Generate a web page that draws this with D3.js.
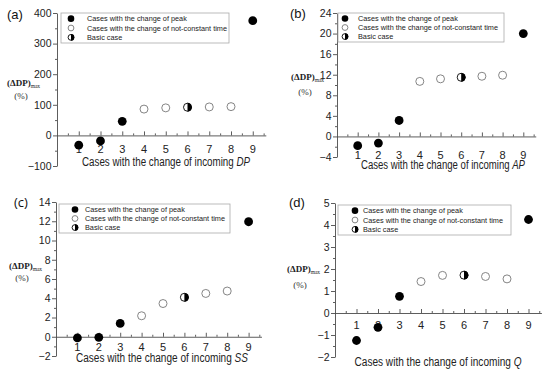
<!DOCTYPE html>
<html>
<head>
<meta charset="utf-8">
<script src="https://cdn.jsdelivr.net/npm/d3@7"></script>
<style>
  body { margin: 0; background: #fff; }
  svg { display: block; }
</style>
</head>
<body>
<svg id="chart" width="550" height="372"></svg>
<script>
// data
var cases = [1, 2, 3, 4, 5, 6, 7, 8, 9];
var caseTypes = ["peak", "peak", "peak", "time", "time", "basic", "time", "time", "peak"];

var dpValues = [-32, -18, 46, 86, 90, 92, 93, 94, 375];
var apValues = [-1.8, -1.3, 3.1, 10.7, 11.2, 11.5, 11.7, 11.9, 20];
var ssValues = [-0.12, -0.06, 1.38, 2.18, 3.45, 4.1, 4.5, 4.75, 11.95];
var qValues = [-1.25, -0.65, 0.76, 1.43, 1.71, 1.72, 1.66, 1.55, 4.25];

var dpTicks = [-100, 0, 100, 200, 300, 400];
var apTicks = [-4, 0, 4, 8, 12, 16, 20, 24];
var ssTicks = [-2, 0, 2, 4, 6, 8, 10, 12, 14];
var qTicks = [-2, -1, 0, 1, 2, 3, 4, 5];

var legendLabels = ["Cases with the change of peak", "Cases with the change of not-constant time", "Basic case"];
var legendTypes = ["peak", "time", "basic"];
var panelLetters = ["(a)", "(b)", "(c)", "(d)"];
var incomingNames = ["DP", "AP", "SS", "Q"];

// layout of each panel (pixels)
var panels = [
    { values: dpValues, ticks: dpTicks, x0: 57, step: 21.75, yTop: 13, yBot: 166,
      labY: 149, titleX: 166, titleY: 166, titleW: 168, legend: [61, 13, 168, 30], legMark: 71, legText: 87,
      ylab: [7, 86], pct: [21, 99], let: [7, 19] },
    { values: apValues, ticks: apTicks, x0: 337, step: 20.7, yTop: 13, yBot: 157,
      labY: 155, titleX: 443, titleY: 169, titleW: 164, legend: [338, 13, 166, 29], legMark: 345, legText: 358,
      ylab: [291, 80], pct: [305, 95], let: [290, 18] },
    { values: ssValues, ticks: ssTicks, x0: 56, step: 21.4, yTop: 202, yBot: 356,
      labY: 347, titleX: 162, titleY: 362, titleW: 172, legend: [59, 204, 171, 29], legMark: 75, legText: 85,
      ylab: [9, 269], pct: [22, 281], let: [14, 207] },
    { values: qValues, ticks: qTicks, x0: 335, step: 21.5, yTop: 203, yBot: 357,
      labY: 325, titleX: 438, titleY: 366, titleW: 167, legend: [338, 205, 173, 30], legMark: 355, legText: 363,
      ylab: [287, 272], pct: [300, 288], let: [289, 207] }
];

var svg = d3.select("#chart");
var fmt = d3.format("~g");

function drawMarker(g, type, r) {
    if (type == "peak") {
        g.append("circle").attr("r", r).attr("fill", "#000");
    } else if (type == "time") {
        g.append("circle").attr("r", r - 0.4).attr("fill", "#fff")
            .attr("stroke", "#777").attr("stroke-width", 0.9);
    } else {
        g.append("circle").attr("r", r - 0.4).attr("fill", "#fff")
            .attr("stroke", "#000").attr("stroke-width", 0.9);
        // right half black
        g.append("path")
            .attr("d", "M0," + (-r) + " A" + r + "," + r + " 0 0 1 0," + r + " Z")
            .attr("fill", "#000");
    }
}

panels.forEach(function(p, pi) {
    var g = svg.append("g");

    var x = d3.scaleLinear().domain([0, 9.6]).range([p.x0, p.x0 + 9.6 * p.step]);
    var y = d3.scaleLinear()
        .domain([p.ticks[0], p.ticks[p.ticks.length - 1]])
        .range([p.yBot, p.yTop]);

    // minor ticks halfway between the majors
    var minorY = [];
    for (var i = 0; i < p.ticks.length - 1; i++) {
        minorY.push((p.ticks[i] + p.ticks[i + 1]) / 2);
    }
    var minorX = [];
    for (var k = 0; k < 10; k++) minorX.push(k + 0.5);

    // y axis
    var yAx = g.append("g")
        .attr("transform", "translate(" + p.x0 + ",0)")
        .call(d3.axisLeft(y).tickValues(p.ticks).tickFormat(fmt).tickSize(4).tickSizeOuter(0).tickPadding(1.5));
    yAx.selectAll("text")
        .attr("font-family", "Liberation Sans, Arial, sans-serif")
        .attr("font-size", "10.5px")
        .attr("fill", "#222");
    g.append("g")
        .attr("transform", "translate(" + p.x0 + ",0)")
        .call(d3.axisLeft(y).tickValues(minorY).tickSize(2).tickFormat(""))
        .select(".domain").remove();

    // x axis along zero
    g.append("g")
        .attr("transform", "translate(0," + y(0) + ")")
        .call(d3.axisBottom(x).tickValues(cases).tickSize(-4).tickSizeOuter(0).tickFormat(""));
    g.append("g")
        .attr("transform", "translate(0," + y(0) + ")")
        .call(d3.axisBottom(x).tickValues(minorX).tickSize(-2).tickFormat(""))
        .select(".domain").remove();

    g.selectAll(".domain, .tick line").attr("stroke", "#333").attr("stroke-width", 0.8);

    // case labels
    g.selectAll(".caselab")
        .data(cases)
        .enter()
        .append("text")
        .attr("class", "caselab")
        .attr("x", function(d) { return x(d); })
        .attr("y", p.labY + 4)
        .attr("text-anchor", "middle")
        .attr("font-family", "Liberation Sans, Arial, sans-serif")
        .attr("font-size", "11px")
        .attr("fill", "#222")
        .text(function(d) { return d; });

    // axis title
    var t = g.append("text")
        .attr("x", p.titleX)
        .attr("y", p.titleY)
        .attr("text-anchor", "middle")
        .attr("font-family", "Liberation Sans, Arial, sans-serif")
        .attr("font-size", "12px")
        .attr("fill", "#222")
        .attr("textLength", p.titleW)
        .attr("lengthAdjust", "spacingAndGlyphs");
    t.append("tspan").text("Cases with the change of incoming ");
    t.append("tspan").attr("font-style", "italic").text(incomingNames[pi]);

    // y label
    var yl = g.append("text")
        .attr("x", p.ylab[0])
        .attr("y", p.ylab[1])
        .attr("font-family", "Liberation Serif, Times New Roman, serif")
        .attr("fill", "#222");
    yl.append("tspan").attr("font-size", "9px").attr("font-weight", "bold").text("(\u0394DP)");
    yl.append("tspan").attr("font-size", "5.5px").attr("dy", 2).text("max");
    g.append("text")
        .attr("x", p.pct[0])
        .attr("y", p.pct[1])
        .attr("text-anchor", "middle")
        .attr("font-family", "Liberation Serif, Times New Roman, serif")
        .attr("font-size", "9px")
        .attr("fill", "#333")
        .text("(%)");

    // panel letter
    g.append("text")
        .attr("x", p.let[0])
        .attr("y", p.let[1])
        .attr("font-family", pi == 2 ? "Open Sans, sans-serif" : "Liberation Sans, Arial, sans-serif")
        .attr("font-size", "13px")
        .attr("fill", "#111")
        .text(panelLetters[pi]);

    // legend box
    var lg = g.append("g");
    lg.append("rect")
        .attr("x", p.legend[0])
        .attr("y", p.legend[1])
        .attr("width", p.legend[2])
        .attr("height", p.legend[3])
        .attr("fill", "#fff")
        .attr("stroke", "#aaa")
        .attr("stroke-width", 0.8);
    var rowH = p.legend[3] / 3.2;
    legendTypes.forEach(function(type, li) {
        var cy = p.legend[1] + rowH * (li + 0.6);
        var m = lg.append("g").attr("transform", "translate(" + p.legMark + "," + cy + ")");
        drawMarker(m, type, 3.3);
        lg.append("text")
            .attr("x", p.legText)
            .attr("y", cy + 2.7)
            .attr("font-family", "Liberation Sans, Arial, sans-serif")
            .attr("font-size", "7.3px")
            .attr("fill", "#222")
            .text(legendLabels[li]);
    });

    // points
    g.selectAll(".pt")
        .data(p.values)
        .enter()
        .append("g")
        .attr("class", "pt")
        .attr("transform", function(d, i) { return "translate(" + x(cases[i]) + "," + y(d) + ")"; })
        .each(function(d, i) { drawMarker(d3.select(this), caseTypes[i], 4.4); });
});
</script>
</body>
</html>
